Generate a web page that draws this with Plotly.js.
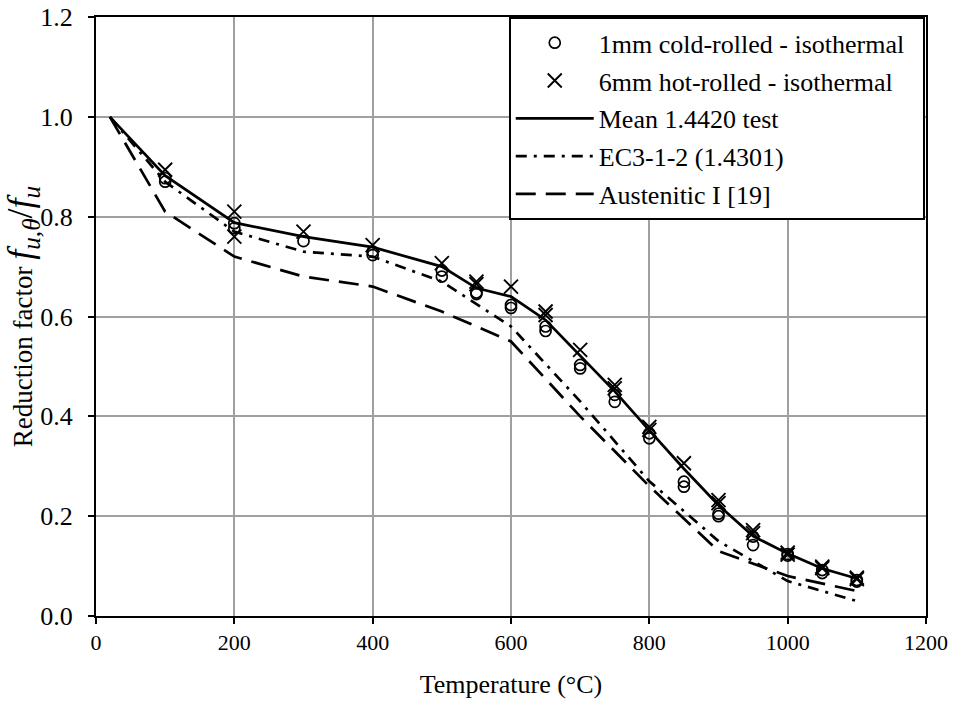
<!DOCTYPE html>
<html>
<head>
<meta charset="utf-8">
<script src="https://cdn.plot.ly/plotly-3.0.1.min.js"></script>
<style>html,body{margin:0;padding:0;background:#fff;}#chart{width:957px;height:704px;}</style>
</head>
<body>
<div id="chart"></div>
<script>
// Test data (temperature in °C, reduction factor)
const coldT = [100,100,200,200,300,400,400,500,500,550,550,600,600,650,650,700,700,750,750,800,800,850,850,900,900,950,950,1000,1000,1050,1050,1100,1100];
const coldK = [0.877,0.870,0.787,0.777,0.751,0.730,0.723,0.692,0.680,0.648,0.645,0.623,0.617,0.580,0.571,0.503,0.496,0.443,0.429,0.366,0.356,0.269,0.259,0.205,0.200,0.159,0.142,0.124,0.121,0.092,0.086,0.072,0.069];

const hotT = [100,200,200,300,400,500,550,550,600,650,650,700,750,750,800,800,850,900,900,950,950,1000,1000,1050,1050,1100,1100];
const hotK = [0.894,0.810,0.760,0.770,0.743,0.707,0.670,0.665,0.660,0.610,0.603,0.533,0.463,0.456,0.379,0.373,0.306,0.232,0.226,0.172,0.166,0.127,0.123,0.099,0.096,0.077,0.074];

const meanT = [20,100,200,300,400,500,550,600,650,700,750,800,850,900,950,1000,1050,1100];
const meanK = [1.0,0.882,0.788,0.760,0.739,0.700,0.657,0.640,0.593,0.522,0.450,0.372,0.295,0.222,0.160,0.125,0.095,0.075];

const ec3T = [20,100,200,300,400,500,600,700,800,900,1000,1100];
const ec3K = [1.00,0.87,0.77,0.73,0.72,0.67,0.58,0.43,0.27,0.15,0.07,0.03];

const ausT = [20,100,200,300,400,500,600,700,800,900,1000,1100];
const ausK = [1.00,0.81,0.72,0.68,0.66,0.61,0.55,0.40,0.26,0.13,0.08,0.05];

const xTicks = [0,200,400,600,800,1000,1200];
const yTicks = [0.0,0.2,0.4,0.6,0.8,1.0,1.2];
const yTickText = ['0.0','0.2','0.4','0.6','0.8','1.0','1.2'];

const seriesNames = ['1mm cold-rolled - isothermal', '6mm hot-rolled - isothermal', 'Mean 1.4420 test', 'EC3-1-2 (1.4301)', 'Austenitic I [19]'];

const FONT = 'Liberation Serif';

const traces = [
  {x: coldT, y: coldK, mode: 'markers', type: 'scatter', name: seriesNames[0] + '\u00a0\u00a0', legendgroup: 'a',
   marker: {symbol: 'circle-open', size: 11, color: '#000', line: {width: 1.7, color: '#000'}}},
  {x: hotT, y: hotK, mode: 'markers', type: 'scatter', name: seriesNames[1], legendgroup: 'b',
   marker: {symbol: 'x-thin-open', size: 14, color: '#000', line: {width: 1.9, color: '#000'}}},
  {x: meanT, y: meanK, mode: 'lines', type: 'scatter', name: seriesNames[2], legendgroup: 'c',
   line: {color: '#000', width: 2.7}},
  {x: ec3T, y: ec3K, mode: 'lines', type: 'scatter', name: seriesNames[3], legendgroup: 'd',
   line: {color: '#000', width: 2.7, dash: '11px,7px,3px,7px'}},
  {x: ausT, y: ausK, mode: 'lines', type: 'scatter', name: seriesNames[4], legendgroup: 'e',
   line: {color: '#000', width: 2.7, dash: '20px,10px'}}
];

const layout = {
  width: 957, height: 704,
  margin: {l: 96, r: 31, t: 17, b: 88},
  paper_bgcolor: '#fff', plot_bgcolor: '#fff',
  font: {family: FONT, size: 22, color: '#000'},
  showlegend: true,
  legend: {
    x: 0.9985, y: 0.9995, xanchor: 'right', yanchor: 'top',
    bgcolor: '#fff', bordercolor: '#000', borderwidth: 2,
    font: {family: FONT, size: 26, color: '#000'},
    traceorder: 'grouped', tracegroupgap: 1, itemwidth: 78
  },
  xaxis: {
    range: [0, 1200], tickvals: xTicks, ticktext: xTicks.map(String),
    showgrid: true, gridcolor: '#a0a0a0', gridwidth: 2,
    showline: true, linecolor: '#000', linewidth: 2, mirror: true,
    ticks: 'outside', ticklen: 6, tickwidth: 2, tickcolor: '#000',
    zeroline: false,
    tickfont: {family: FONT, size: 22},
    title: {text: 'Temperature (°C)', font: {family: FONT, size: 26}, standoff: 20}
  },
  yaxis: {
    range: [0, 1.2], tickvals: yTicks, ticktext: yTickText,
    showgrid: true, gridcolor: '#a0a0a0', gridwidth: 2,
    showline: true, linecolor: '#000', linewidth: 2, mirror: true,
    ticks: 'outside', ticklen: 6, tickwidth: 2, tickcolor: '#000',
    zeroline: false, ticklabelstandoff: 10,
    tickfont: {family: FONT, size: 26},
    title: {text: 'Reduction factor <span style="font-size:36px"><i>f</i><sub><i>u,θ</i></sub>/<i>f</i><sub><i>u</i></sub></span>', font: {family: FONT, size: 27}, standoff: 2}
  }
};

Plotly.newPlot('chart', traces, layout, {staticPlot: true, displayModeBar: false});
</script>
</body>
</html>
